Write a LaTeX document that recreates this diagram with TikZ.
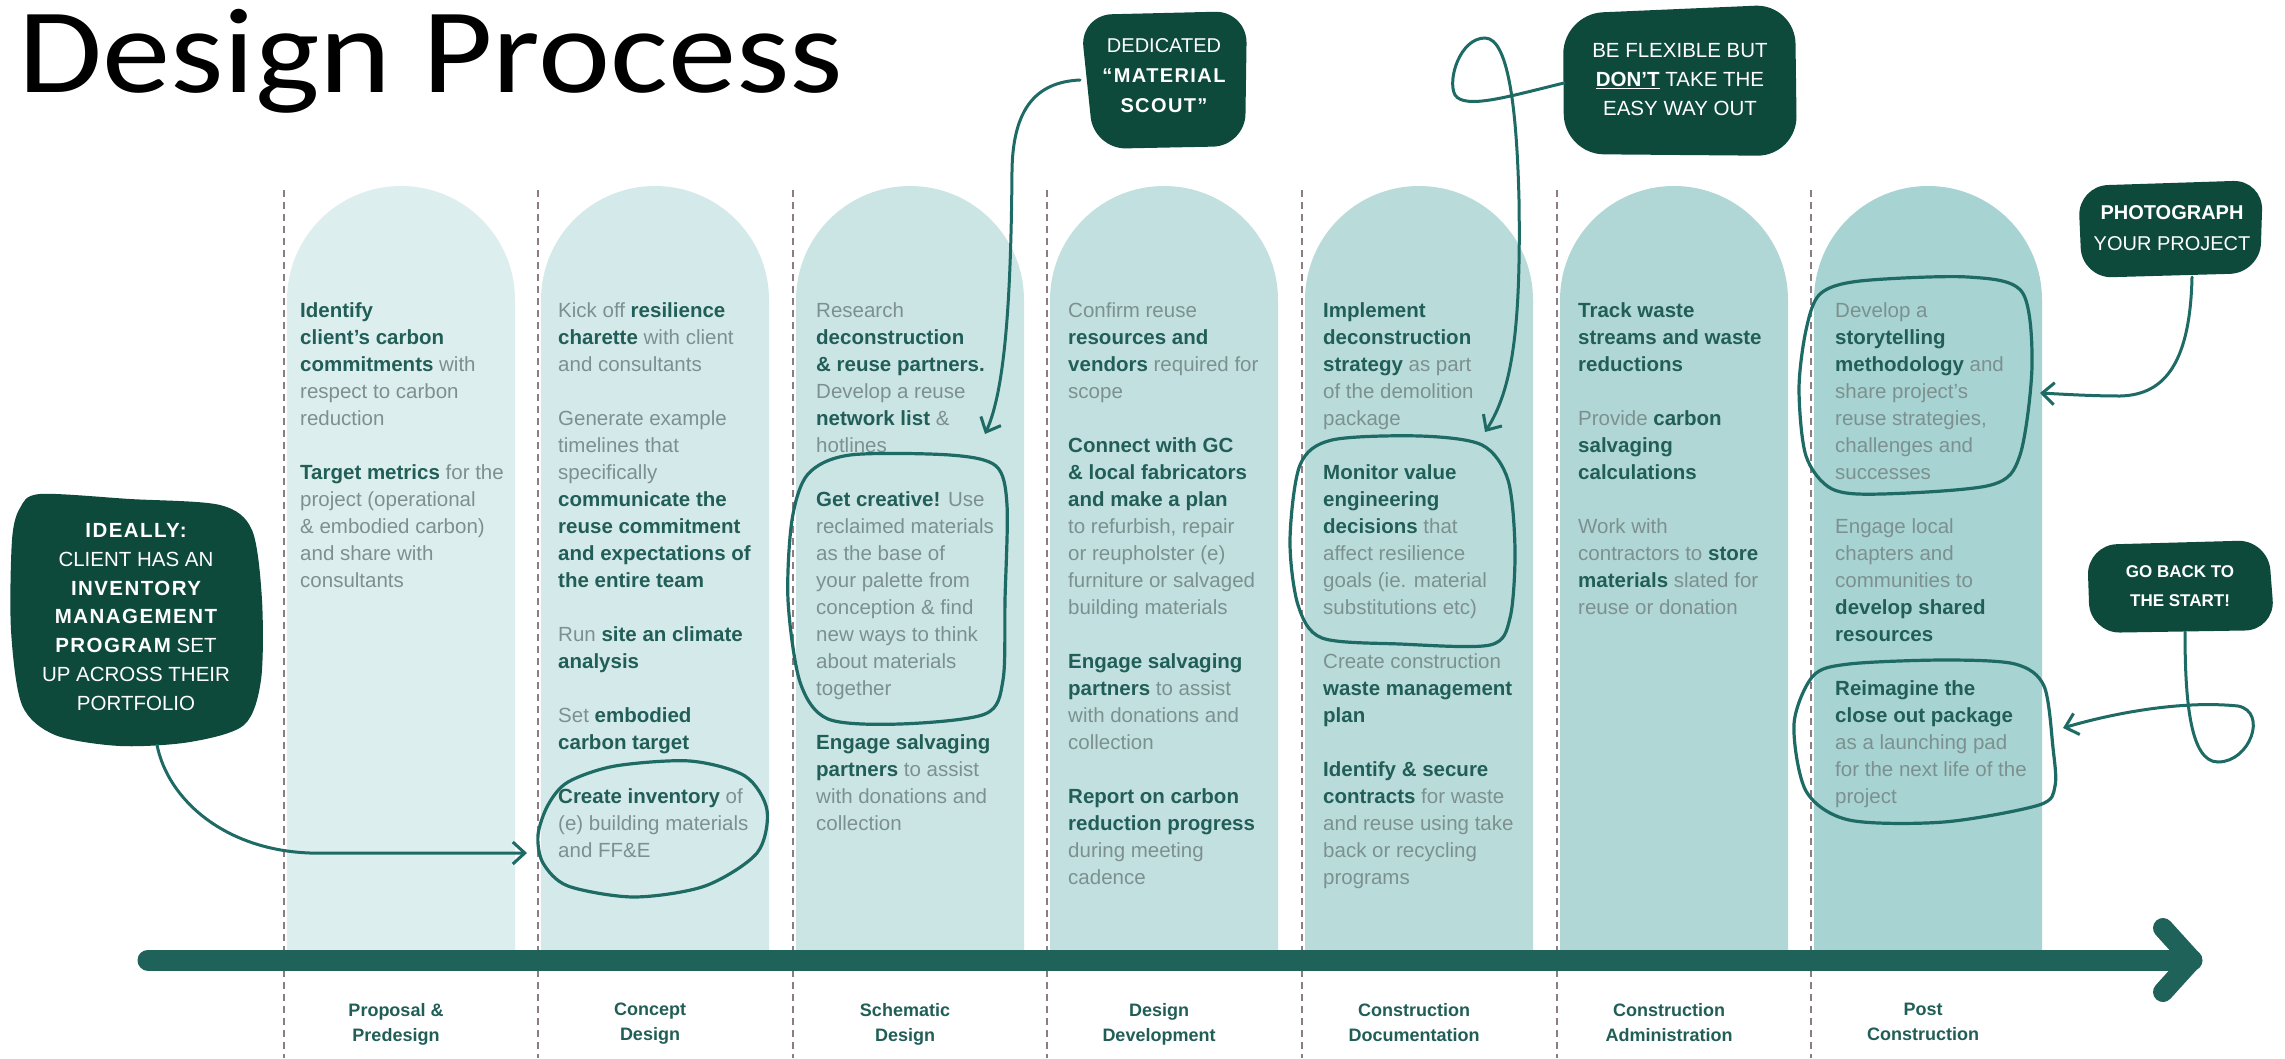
\documentclass[tikz,border=0pt]{standalone}
\usepackage{fontspec}
\usepackage{graphicx}
\setmainfont{Liberation Sans}
\newfontfamily\titlefont{Carlito}
\usepackage{tikz}
\usetikzlibrary{arrows.meta,positioning}

\definecolor{inkgreen}{HTML}{0D4A3B}
\definecolor{penteal}{HTML}{1E6A64}
\definecolor{bandteal}{HTML}{1F6259}
\definecolor{boldtext}{HTML}{215E57}
\definecolor{bodytext}{HTML}{7C918F}
\definecolor{dashgray}{HTML}{8C7C83}
\definecolor{phaseA}{HTML}{DDEEEE}
\definecolor{phaseB}{HTML}{D4E9E9}
\definecolor{phaseC}{HTML}{CBE5E5}
\definecolor{phaseD}{HTML}{C2E0E0}
\definecolor{phaseE}{HTML}{B9DCDB}
\definecolor{phaseF}{HTML}{B0D7D6}
\definecolor{phaseG}{HTML}{A7D3D2}

% bold keywords inside the column texts
\newcommand{\hilite}[1]{{\bfseries\color{boldtext}#1}}
% wide bold lettering in the callouts
\newcommand{\handbold}[1]{{\bfseries\addfontfeature{LetterSpace=7}#1}}

\tikzset{
    %Define standard arrow tip
    >={Straight Barb[length=12pt,width=22pt]},
    %Define style for dashed phase borders
    guide/.style={
           draw=dashgray,
           line width=1.6pt,
           dash pattern=on 7pt off 5pt},
    %Define style for column texts
    phase/.style={
           anchor=north west,
           align=left,
           inner sep=0pt,
           text=bodytext,
           font=\fontsize{20.5}{27}\selectfont},
    stagename/.style={
           anchor=north,
           align=center,
           inner sep=0pt,
           text=boldtext,
           font=\bfseries\fontsize{18}{25}\selectfont},
    %Define style for the dark callouts
    bubble/.style={
           fill=inkgreen},
    note/.style={
           align=center,
           inner sep=0pt,
           text=white,
           font=\fontsize{20}{29}\selectfont},
    % Define pen styles
    ring/.style={
           draw=penteal,
           line width=3.2pt},
    lead/.style={
           ->,
           draw=penteal,
           line width=3pt,
           line cap=round}
}

\begin{document}
\begin{tikzpicture}[x=1pt,y=-1pt]

\fill[white] (0,0) rectangle (2285,1058);
\useasboundingbox (0,0) rectangle (2285,1058);

 %title
\node[anchor=base west, inner sep=0pt, font=\titlefont\fontsize{121}{124}\selectfont] (title) at (18,92) {\scalebox{1.13}[1]{Design Process}};

 %phase borders
\draw[guide] (284,190) -- (284,1058);
\draw[guide] (538,190) -- (538,1058);
\draw[guide] (793,190) -- (793,1058);
\draw[guide] (1047,190) -- (1047,1058);
\draw[guide] (1302,190) -- (1302,1058);
\draw[guide] (1557,190) -- (1557,1058);
\draw[guide] (1811,190) -- (1811,1058);

 %phase columns
\fill[phaseA] (287,958) -- (287,300) arc[start angle=180, end angle=360, radius=114] -- (515,958) -- cycle;
\fill[phaseB] (541,958) -- (541,300) arc[start angle=180, end angle=360, radius=114] -- (769,958) -- cycle;
\fill[phaseC] (796,958) -- (796,300) arc[start angle=180, end angle=360, radius=114] -- (1024,958) -- cycle;
\fill[phaseD] (1050,958) -- (1050,300) arc[start angle=180, end angle=360, radius=114] -- (1278,958) -- cycle;
\fill[phaseE] (1305,958) -- (1305,300) arc[start angle=180, end angle=360, radius=114] -- (1533,958) -- cycle;
\fill[phaseF] (1560,958) -- (1560,300) arc[start angle=180, end angle=360, radius=114] -- (1788,958) -- cycle;
\fill[phaseG] (1814,958) -- (1814,300) arc[start angle=180, end angle=360, radius=114] -- (2042,958) -- cycle;

 %column texts
\node[phase] (predesign) at (300,302) {\hilite{Identify}\\ \hilite{client's carbon}\\ \hilite{commitments} with\\ respect to carbon\\ reduction\\[27pt]
  \hilite{Target metrics} for the\\ project (operational\\ \& embodied carbon)\\ and share with\\ consultants};
\node[phase] (concept) at (558,302) {Kick off \hilite{resilience}\\ \hilite{charette} with client\\ and consultants\\[27pt]
  Generate example\\ timelines that\\ specifically\\ \hilite{communicate the}\\ \hilite{reuse commitment}\\ \hilite{and expectations of}\\ \hilite{the entire team}\\[27pt]
  Run \hilite{site an climate}\\ \hilite{analysis}\\[27pt]
  Set \hilite{embodied}\\ \hilite{carbon target}\\[27pt]
  \hilite{Create inventory} of\\ (e) building materials\\ and FF\&E};
\node[phase] (schematic) at (816,302) {Research\\ \hilite{deconstruction}\\ \hilite{\& reuse partners.}\\ Develop a reuse\\ \hilite{network list} \&\\ hotlines\\[27pt]
  \hilite{Get creative!} Use\\ reclaimed materials\\ as the base of\\ your palette from\\ conception \& find\\ new ways to think\\ about materials\\ together\\[27pt]
  \hilite{Engage salvaging}\\ \hilite{partners} to assist\\ with donations and\\ collection};
\node[phase] (development) at (1068,302) {Confirm reuse\\ \hilite{resources and}\\ \hilite{vendors} required for\\ scope\\[27pt]
  \hilite{Connect with GC}\\ \hilite{\& local fabricators}\\ \hilite{and make a plan}\\ to refurbish, repair\\ or reupholster (e)\\ furniture or salvaged\\ building materials\\[27pt]
  \hilite{Engage salvaging}\\ \hilite{partners} to assist\\ with donations and\\ collection\\[27pt]
  \hilite{Report on carbon}\\ \hilite{reduction progress}\\ during meeting\\ cadence};
\node[phase] (documentation) at (1323,302) {\hilite{Implement}\\ \hilite{deconstruction}\\ \hilite{strategy} as part\\ of the demolition\\ package\\[27pt]
  \hilite{Monitor value}\\ \hilite{engineering}\\ \hilite{decisions} that\\ affect resilience\\ goals (ie. material\\ substitutions etc)\\[27pt]
  Create construction\\ \hilite{waste management}\\ \hilite{plan}\\[27pt]
  \hilite{Identify \& secure}\\ \hilite{contracts} for waste\\ and reuse using take\\ back or recycling\\ programs};
\node[phase] (administration) at (1578,302) {\hilite{Track waste}\\ \hilite{streams and waste}\\ \hilite{reductions}\\[27pt]
  Provide \hilite{carbon}\\ \hilite{salvaging}\\ \hilite{calculations}\\[27pt]
  Work with\\ contractors to \hilite{store}\\ \hilite{materials} slated for\\ reuse or donation};
\node[phase] (post) at (1835,302) {Develop a\\ \hilite{storytelling}\\ \hilite{methodology} and\\ share project's\\ reuse strategies,\\ challenges and\\ successes\\[27pt]
  Engage local\\ chapters and\\ communities to\\ \hilite{develop shared}\\ \hilite{resources}\\[27pt]
  \hilite{Reimagine the}\\ \hilite{close out package}\\ as a launching pad\\ for the next life of the\\ project};

 %hand drawn rings
\draw[ring] plot[smooth cycle] coordinates {(538,835) (548,805) (568,782) (615,766) (690,761) (745,776) (767,810) (757,853) (705,886) (634,897) (568,886) (543,863)};
\draw[ring] plot[smooth cycle] coordinates {(808,474) (850,455) (950,455) (996,466) (1007,505) (1005,600) (1003,680) (985,714) (900,724) (828,719) (800,682) (788,600) (792,520)};
\draw[ring] plot[smooth cycle] coordinates {(1300,465) (1332,440) (1420,436) (1482,445) (1508,480) (1515,550) (1510,618) (1490,645) (1400,644) (1322,638) (1298,605) (1290,540)};
\draw[ring] plot[smooth cycle] coordinates {(1820,294) (1860,281) (1968,277) (2022,292) (2032,365) (2020,455) (1991,485) (1882,494) (1832,489) (1806,456) (1799,389) (1806,330)};
\draw[ring] plot[smooth cycle] coordinates {(1813,676) (1849,664) (1944,660) (2015,664) (2044,686) (2053,748) (2055,786) (2039,805) (1944,822) (1849,820) (1806,791) (1794,724)};

 %timeline
\coordinate (start) at (148,960);
\coordinate (end) at (2192,960);
\draw[bandteal, line width=21pt, line cap=round] (start) -- (end);
\draw[bandteal, line width=20pt, line cap=round, line join=round] (2163,928) -- (end) -- (2163,992);

 %phase names
\coordinate (p1) at (396,960);
\coordinate (p2) at (650,960);
\coordinate (p3) at (905,960);
\coordinate (p4) at (1159,960);
\coordinate (p5) at (1414,960);
\coordinate (p6) at (1669,960);
\coordinate (p7) at (1923,960);
\node[stagename, below=43pt of p1] (n1) {Proposal \&\\Predesign};
\node[stagename, below=43pt of p2] (n2) {Concept\\Design};
\node[stagename, below=43pt of p3] (n3) {Schematic\\Design};
\node[stagename, below=43pt of p4] (n4) {Design\\Development};
\node[stagename, below=43pt of p5] (n5) {Construction\\Documentation};
\node[stagename, below=43pt of p6] (n6) {Construction\\Administration};
\node[stagename, below=43pt of p7] (n7) {Post\\Construction};

 %callouts
\fill[bubble] plot[smooth cycle] coordinates {(40,494) (130,499) (220,505) (252,530) (262,600) (261,680) (244,725) (190,742) (120,746) (55,735) (22,705) (11,630) (12,540) (20,508)};
\node[note, font=\fontsize{20.5}{28.8}\selectfont] (ideal) at (136,617) {\handbold{IDEALLY:}\\ CLIENT HAS AN\\ \handbold{INVENTORY}\\ \handbold{MANAGEMENT}\\ \handbold{PROGRAM} SET\\ UP ACROSS THEIR\\ PORTFOLIO};

\fill[bubble, rounded corners=32pt] (1080,15) -- (1247,11) -- (1245,146) -- (1094,149) -- cycle;
\node[note, font=\fontsize{20}{30}\selectfont] (scout) at (1164,76) {DEDICATED\\ \handbold{``MATERIAL}\\ \handbold{SCOUT''}};

\fill[bubble, rounded corners=40pt] (1563,14) -- (1795,4) -- (1797,156) -- (1564,154) -- cycle;
\node[note, font=\fontsize{20.5}{29}\selectfont] (flex) at (1680,80) {BE FLEXIBLE BUT\\ \underline{\textbf{DON'T}} TAKE THE\\ EASY WAY OUT};

\fill[bubble, rounded corners=30pt] (2078,186) -- (2263,180) -- (2260,273) -- (2082,278) -- cycle;
\node[note, font=\fontsize{20}{31}\selectfont] (photo) at (2172,228) {\textbf{PHOTOGRAPH}\\ YOUR PROJECT};

\fill[bubble, rounded corners=30pt] (2087,545) -- (2268,540) -- (2275,630) -- (2090,633) -- cycle;
\node[note, font=\bfseries\fontsize{17}{29}\selectfont] (back) at (2180,586) {GO BACK TO\\ THE START!};

 %connectors
\coordinate (ideal-tail) at (157,745);
\coordinate (inv-head) at (527,853);
\coordinate (scout-tail) at (1080,80);
\coordinate (creative-head) at (985,434);
\coordinate (flex-tail) at (1564,83);
\coordinate (monitor-head) at (1485,432);
\coordinate (photo-tail) at (2192,277);
\coordinate (story-head) at (2040,393);
\coordinate (back-tail) at (2185,632);
\coordinate (close-head) at (2063,728);

\draw[lead] (ideal-tail) .. controls (168,800) and (225,850) .. (310,853) -- (inv-head);
\draw[lead] (scout-tail) .. controls (1035,82) and (1013,110) .. (1012,170) .. controls (1011,300) and (1005,390) .. (creative-head);
\draw[lead] (flex-tail) .. controls (1510,96) and (1465,110) .. (1455,95) .. controls (1447,80) and (1460,38) .. (1485,38)
    .. controls (1510,38) and (1517,120) .. (1519,200) .. controls (1521,330) and (1512,390) .. (monitor-head);
\draw[lead] (photo-tail) .. controls (2190,370) and (2160,395) .. (2120,396) .. controls (2090,396) and (2060,394) .. (story-head);
\draw[lead] (back-tail) .. controls (2185,700) and (2190,762) .. (2218,762) .. controls (2250,762) and (2268,712) .. (2238,706)
    .. controls (2180,700) and (2110,714) .. (close-head);

\end{tikzpicture}
\end{document}
